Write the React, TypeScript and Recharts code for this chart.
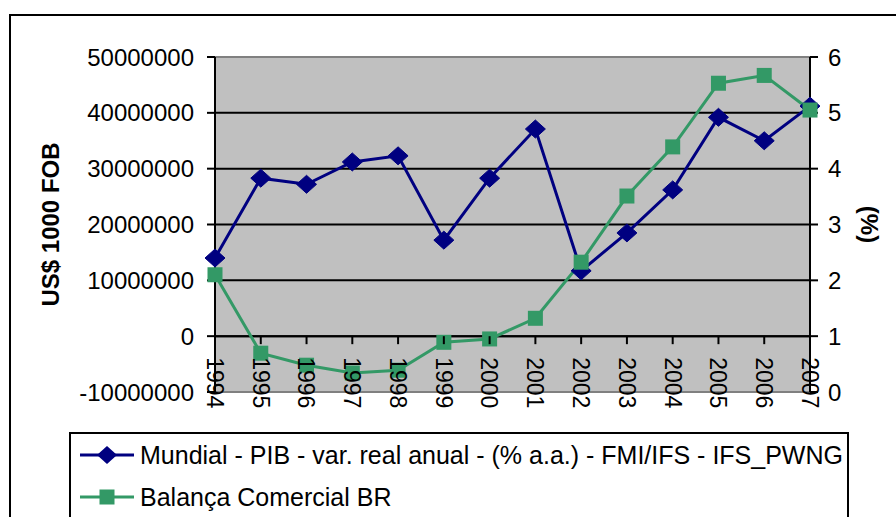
import React from 'react';
import { LineChart, Line, XAxis, YAxis, CartesianGrid, ReferenceLine } from 'recharts';

const years = ['1994', '1995', '1996', '1997', '1998', '1999', '2000', '2001', '2002', '2003', '2004', '2005', '2006', '2007'];
const pibMundial = [2.4, 3.83, 3.72, 4.12, 4.23, 2.72, 3.83, 4.71, 2.17, 2.85, 3.62, 4.92, 4.5, 5.12];
const balancaBR = [11000000, -3050000, -5200000, -6600000, -6100000, -1100000, -500000, 3200000, 13250000, 25100000, 33900000, 45300000, 46700000, 40500000];
const leftTicks = [-10000000, 0, 10000000, 20000000, 30000000, 40000000, 50000000];
const rightTicks = [0, 1, 2, 3, 4, 5, 6];

const SERIES_PIB = 'Mundial - PIB - var. real anual - (% a.a.) - FMI/IFS - IFS_PWNG';
const SERIES_BAL = 'Balança Comercial BR';
const BLUE = '#000080';
const GREEN = '#339966';
const FONT = '"Liberation Sans", Arial, sans-serif';

const W = 896;
const H = 517;
const M_TOP = 57;
const X_AXIS_H = 30;
const M_BOTTOM = 95;
const PLOT_H = H - M_TOP - M_BOTTOM - X_AXIS_H;
const LEFT_MIN = leftTicks[0];
const LEFT_MAX = leftTicks[leftTicks.length - 1];
const ZERO_Y = M_TOP + (PLOT_H * (LEFT_MAX - 0)) / (LEFT_MAX - LEFT_MIN);

const data = years.map((y, i) => ({ year: y, pib: pibMundial[i], bal: balancaBR[i] }));

const XTick = (props: any) => {
  const { x, payload } = props;
  const ty = ZERO_Y + 21;
  return (
    <g>
      <line x1={x} x2={x} y1={ZERO_Y} y2={ZERO_Y + 8} stroke="#000" strokeWidth={2} />
      <text
        x={x}
        y={ty}
        dy="0.355em"
        transform={`rotate(90, ${x}, ${ty})`}
        textAnchor="start"
        fontSize={23}
        fontFamily={FONT}
        fill="#000"
      >
        {payload.value}
      </text>
    </g>
  );
};

const Diamond = (props: any) => {
  const { cx, cy, index } = props;
  if (cx == null || cy == null) return <g key={`d${index}`} />;
  return (
    <polygon
      key={`d${index}`}
      points={`${cx - 10},${cy} ${cx},${cy - 9} ${cx + 10},${cy} ${cx},${cy + 9}`}
      fill={BLUE}
      stroke={BLUE}
      strokeWidth={1}
    />
  );
};

const Square = (props: any) => {
  const { cx, cy, index } = props;
  if (cx == null || cy == null) return <g key={`s${index}`} />;
  return <rect key={`s${index}`} x={cx - 7.5} y={cy - 7.5} width={15} height={15} fill={GREEN} />;
};

const LegendIcon = ({ color, marker }: { color: string; marker: 'diamond' | 'square' }) => (
  <svg width={54} height={24} style={{ display: 'block' }}>
    <line x1={0} x2={54} y1={12} y2={12} stroke={color} strokeWidth={3} />
    {marker === 'diamond' ? (
      <polygon points="17,12 27,3 37,12 27,21" fill={color} />
    ) : (
      <rect x={19.5} y={4.5} width={15} height={15} fill={color} />
    )}
  </svg>
);

export default function App() {
  return (
    <div style={{ position: 'absolute', left: 0, top: 0, width: W, height: H, overflow: 'hidden', background: '#fff', fontFamily: FONT }}>
      <div style={{ position: 'absolute', left: 9, top: 14, width: 940, height: 600, border: '2px solid #000', boxSizing: 'border-box' }} />
      <div style={{ position: 'absolute', left: 0, top: 0 }}>
        <LineChart width={W} height={H} data={data} margin={{ top: M_TOP, right: 0, bottom: M_BOTTOM, left: 0 }}>
          <CartesianGrid yAxisId="left" fill="#C0C0C0" vertical={false} stroke="#000" strokeWidth={2} horizontal={true} />
          <ReferenceLine yAxisId="left" y={LEFT_MAX} stroke="#808080" strokeWidth={2} />
          <ReferenceLine yAxisId="left" y={LEFT_MIN} stroke="#808080" strokeWidth={2} />
          <ReferenceLine yAxisId="left" y={0} stroke="#000" strokeWidth={2} />
          <XAxis
            dataKey="year"
            scale="point"
            padding={{ left: 0, right: 0 }}
            height={X_AXIS_H}
            axisLine={false}
            tickLine={false}
            tickSize={0}
            tickMargin={0}
            interval={0}
            tick={<XTick />}
          />
          <YAxis
            yAxisId="left"
            orientation="left"
            width={215}
            domain={[LEFT_MIN, LEFT_MAX]}
            ticks={leftTicks}
            interval={0}
            tickFormatter={(v: number) => String(v)}
            axisLine={{ stroke: '#000', strokeWidth: 2 }}
            tickLine={{ stroke: '#000', strokeWidth: 2 }}
            tickSize={8}
            tickMargin={13}
            tick={{ fontSize: 24, fill: '#000', fontFamily: FONT }}
            label={{
              content: (p: any) => {
                const vb = p.viewBox || { x: 0, y: M_TOP, width: 215, height: PLOT_H };
                const lx = vb.x + 50;
                const ly = vb.y + vb.height / 2;
                return (
                  <text x={lx} y={ly} dy="0.355em" transform={`rotate(-90, ${lx}, ${ly})`} textAnchor="middle" fontSize={24} fontWeight="bold" fontFamily={FONT} fill="#000">
                    US$ 1000 FOB
                  </text>
                );
              },
            }}
          />
          <YAxis
            yAxisId="right"
            orientation="right"
            width={86}
            domain={[0, 6]}
            ticks={rightTicks}
            interval={0}
            axisLine={{ stroke: '#000', strokeWidth: 2 }}
            tickLine={{ stroke: '#000', strokeWidth: 2 }}
            tickSize={8}
            tickMargin={10}
            tick={{ fontSize: 24, fill: '#000', fontFamily: FONT }}
            label={{
              content: (p: any) => {
                const vb = p.viewBox || { x: 810, y: M_TOP, width: 86, height: PLOT_H };
                const lx = vb.x + 60;
                const ly = vb.y + vb.height / 2;
                return (
                  <text x={lx} y={ly} dy="0.355em" transform={`rotate(90, ${lx}, ${ly})`} textAnchor="middle" fontSize={24} fontWeight="bold" fontFamily={FONT} fill="#000">
                    (%)
                  </text>
                );
              },
            }}
          />
          <Line
            yAxisId="right"
            dataKey="pib"
            name={SERIES_PIB}
            stroke={BLUE}
            strokeWidth={3}
            dot={Diamond}
            activeDot={false}
            isAnimationActive={false}
          />
          <Line
            yAxisId="left"
            dataKey="bal"
            name={SERIES_BAL}
            stroke={GREEN}
            strokeWidth={3}
            dot={Square}
            activeDot={false}
            isAnimationActive={false}
          />
        </LineChart>
      </div>
      <div style={{ position: 'absolute', left: 69, top: 432, width: 780, height: 120, border: '2px solid #000', boxSizing: 'border-box', background: '#fff' }} />
      <div style={{ position: 'absolute', left: 80, top: 443, display: 'flex', alignItems: 'center', height: 24 }}>
        <LegendIcon color={BLUE} marker="diamond" />
        <span style={{ marginLeft: 6, fontSize: 25, color: '#000', whiteSpace: 'nowrap', lineHeight: '24px' }}>{SERIES_PIB}</span>
      </div>
      <div style={{ position: 'absolute', left: 80, top: 485, display: 'flex', alignItems: 'center', height: 24 }}>
        <LegendIcon color={GREEN} marker="square" />
        <span style={{ marginLeft: 6, fontSize: 25, color: '#000', whiteSpace: 'nowrap', lineHeight: '24px' }}>{SERIES_BAL}</span>
      </div>
    </div>
  );
}
